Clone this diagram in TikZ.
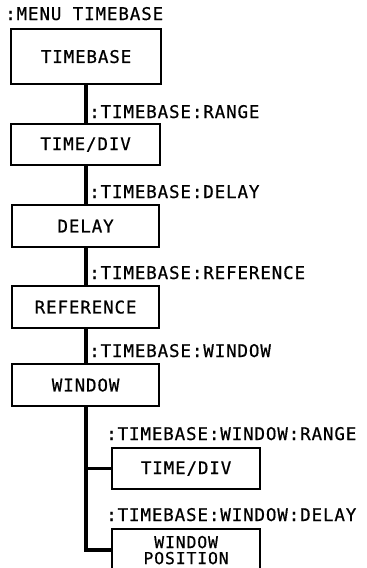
\documentclass[tikz,border=0pt]{standalone}
\usepackage{fontspec}
\setmainfont{DejaVu Sans Mono}[LetterSpace=5,FakeBold=0.6]
\begin{document}
\begin{tikzpicture}[x=1pt,y=-1pt,
  lbl/.style={anchor=base west,inner sep=0pt,font=\fontsize{17.5}{17}\selectfont},
  box/.style={draw,line width=2.2pt,anchor=north west,inner sep=0pt,
    font=\fontsize{17.5}{17}\selectfont,align=center},
  conn/.style={line width=3.6pt}]
\useasboundingbox (0,0) rectangle (367,568);
\clip (0,0) rectangle (367,568);
% labels
\node[lbl] (l1) at (5,20) {:MENU TIMEBASE};
\node[lbl] (l2) at (89,118) {:TIMEBASE:RANGE};
\node[lbl] (l3) at (89,198) {:TIMEBASE:DELAY};
\node[lbl] (l4) at (89,279) {:TIMEBASE:REFERENCE};
\node[lbl] (l5) at (89,357) {:TIMEBASE:WINDOW};
\node[lbl] (l6) at (106,440) {:TIMEBASE:WINDOW:RANGE};
\node[lbl] (l7) at (106,521) {:TIMEBASE:WINDOW:DELAY};
% boxes
\node[box,minimum width=150pt,minimum height=55pt] (b1) at (10,28) {TIMEBASE};
\node[box,minimum width=149pt,minimum height=41pt] (b2) at (10,123) {TIME/DIV};
\node[box,minimum width=147pt,minimum height=42pt] (b3) at (11,204) {DELAY};
\node[box,minimum width=147pt,minimum height=42pt] (b4) at (11,285) {REFERENCE};
\node[box,minimum width=147pt,minimum height=42pt] (b5) at (11,363) {WINDOW};
\node[box,minimum width=148pt,minimum height=41pt] (b6) at (111,447) {TIME/DIV};
\node[box,minimum width=148pt,minimum height=42pt,font=\fontsize{16.5}{16}\selectfont] (b7) at (111,528) {WINDOW\\POSITION};
% connectors
\draw[conn] (b1.south) -- (b1.south |- b2.north);
\draw[conn] (b1.south |- b2.south) -- (b1.south |- b3.north);
\draw[conn] (b1.south |- b3.south) -- (b1.south |- b4.north);
\draw[conn] (b1.south |- b4.south) -- (b1.south |- b5.north);
\coordinate (t) at (b1.south |- b5.south);
\draw[conn] (t) |- (b6.west);
\draw[conn] (t) |- (b7.west);
\end{tikzpicture}
\end{document}
